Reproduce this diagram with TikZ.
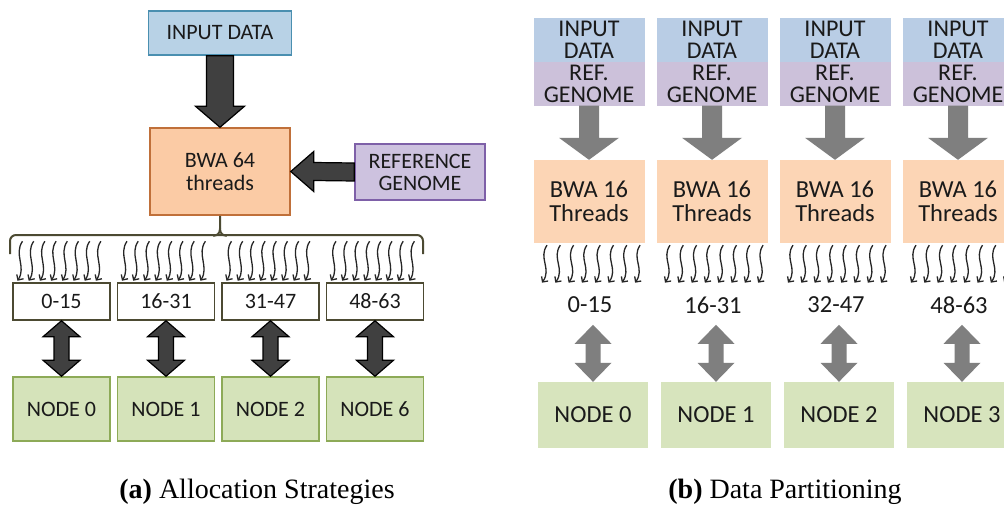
\documentclass[tikz,border=0pt]{standalone}
\usepackage{fontspec}
\setmainfont{Carlito}
\newfontfamily\capfont{Liberation Serif}
\usetikzlibrary{calc,arrows.meta}
\definecolor{inblue}{HTML}{B8D2E6}
\definecolor{inblueb}{HTML}{4A8FB0}
\definecolor{lpeach}{HTML}{FBCBA5}
\definecolor{lpeachb}{HTML}{C0703A}
\definecolor{llav}{HTML}{CDC2DF}
\definecolor{llavb}{HTML}{7E60A8}
\definecolor{lgreen}{HTML}{D5E3BA}
\definecolor{lgreenb}{HTML}{8DAA57}
\definecolor{olive}{HTML}{4C4A32}
\definecolor{rblue}{HTML}{B9CDE5}
\definecolor{rlav}{HTML}{CCC1DA}
\definecolor{rpeach}{HTML}{FCD5B5}
\definecolor{rgreen}{HTML}{D7E4BD}
\definecolor{garrow}{HTML}{7F7F7F}
\definecolor{darrow}{HTML}{404040}
\definecolor{txt}{HTML}{1A1A1A}
% vertical block arrow: #1 start, #2 tip, #3 half shaft, #4 half head, #5 head length, #6 style
\newcommand\vblk[6]{%
  \path[#6] ($(#1)+(-#3,0)$) -- ($(#1)+(#3,0)$) -- ($(#2)+(#3,-#5)$) -- ($(#2)+(#4,-#5)$) -- (#2)
    -- ($(#2)+(-#4,-#5)$) -- ($(#2)+(-#3,-#5)$) -- cycle;}
% leftward block arrow: #1 start (right), #2 tip (left)
\newcommand\hblk[6]{%
  \path[#6] ($(#1)+(0,-#3)$) -- ($(#1)+(0,#3)$) -- ($(#2)+(#5,#3)$) -- ($(#2)+(#5,#4)$) -- (#2)
    -- ($(#2)+(#5,-#4)$) -- ($(#2)+(#5,-#3)$) -- cycle;}
% vertical double block arrow: #1 top tip, #2 bottom tip
\newcommand\dblk[6]{%
  \path[#6] (#1) -- ($(#1)+(#4,#5)$) -- ($(#1)+(#3,#5)$) -- ($(#2)+(#3,-#5)$) -- ($(#2)+(#4,-#5)$) -- (#2)
    -- ($(#2)+(-#4,-#5)$) -- ($(#2)+(-#3,-#5)$) -- ($(#1)+(-#3,#5)$) -- ($(#1)+(-#4,#5)$) -- cycle;}
\tikzset{
  lbox/.style={draw, line width=1.5pt, inner sep=0pt, align=center, text=txt,
    font=\fontsize{22}{22}\selectfont},
  tbox/.style={lbox, fill=white, draw=olive, minimum width=97, minimum height=37},
  lnode/.style={lbox, fill=lgreen, draw=lgreenb, minimum width=97, minimum height=64},
  rbox/.style={inner sep=0pt, align=center, text=txt, font=\fontsize{24.5}{24}\selectfont},
  rtop/.style={rbox, minimum width=111, minimum height=44, font=\fontsize{24}{22}\selectfont},
  rbwa/.style={rbox, fill=rpeach, minimum width=111, minimum height=83, font=\fontsize{24.5}{24}\selectfont},
  rlab/.style={rbox},
  rnode/.style={rbox, fill=rgreen, minimum width=110, minimum height=66},
  darkarrow/.style={fill=darrow, draw=black, line width=1.2pt, line join=miter},
  grayarrow/.style={fill=garrow},
  brace/.style={draw=olive, line width=2pt},
  wave/.style={draw=black!85, line width=1.3pt, -{Straight Barb[length=4pt,width=8pt]}},
  captxt/.style={inner sep=0pt, anchor=base, text=black, font=\capfont\fontsize{28}{30}\selectfont}
}
\begin{document}
\begin{tikzpicture}[x=1pt,y=-1pt]
\clip (0,0) rectangle (1004,506);
\fill[white] (0,0) rectangle (1004,506);

% ---------------- left panel ----------------
\node[lbox, fill=inblue, draw=inblueb, minimum width=143, minimum height=44] (in) at (220,33) {INPUT DATA};
\node[lbox, fill=lpeach, draw=lpeachb, minimum width=140, minimum height=87, font=\fontsize{22}{23}\selectfont] (bwa) at (220,171.5) {BWA 64\\threads};
\node[lbox, fill=llav, draw=llavb, minimum width=130, minimum height=56] (rg) at (420,172) {REFERENCE\\GENOME};

\vblk{in.south}{bwa.north}{13.5}{24.5}{21}{darkarrow}
\hblk{rg.west}{bwa.east}{9}{20}{23}{darkarrow}

\foreach \i/\t in {0/0-15,1/16-31,2/31-47,3/48-63}
  \node[tbox] (tb\i) at (61.5+104.5*\i,301.5) {\t};
\foreach \i/\t in {0/0,1/1,2/2,3/6}
  \node[lnode] (nd\i) at (61.5+104.5*\i,409) {NODE \t};

% brace
\coordinate (bm) at ($(bwa.south)+(0,13)$);
\draw[brace, rounded corners=6] (10,254) -- (10,235) -- (423,235) -- (423,254);
\draw[brace] (bwa.south) -- (bm) .. controls +(0,5) and +(4,0) .. ($(bm)+(-7,7)$);
\draw[brace] (bm) .. controls +(0,5) and +(-4,0) .. ($(bm)+(7,7)$);

\foreach \i in {0,...,3}{
  \foreach \k in {0,...,7}{
    \draw[wave] ($(tb\i.north)+(-39+11.2*\k,-41)$) .. controls +(-9,13) and +(9,-14) .. ($(tb\i.north)+(-44+11.2*\k,-1.5)$);
  }
  \dblk{tb\i.south}{nd\i.north}{7.5}{18.5}{16}{darkarrow}
}

% ---------------- right panel ----------------
\foreach \i/\t in {0/0-15,1/16-31,2/32-47,3/48-63}{
  \node[rtop, fill=rblue] (ti\i) at (589+123*\i,39.5) {INPUT\\DATA};
  \node[rtop, fill=rlav] (ri\i) at (589+123*\i,83.5) {REF.\\GENOME};
  \node[rbwa] (rb\i) at (589+123*\i,201.5) {BWA 16\\Threads};
  \node[rlab] (rl\i) at (590+123*\i,305) {\t};
  \node[rnode] (rn\i) at (593+123*\i,415) {NODE \i};
  \vblk{ri\i.south}{rb\i.north}{10}{30}{22}{grayarrow}
  \coordinate (rdt\i) at ($(rn\i.north)+(0,-57)$);
  \dblk{rdt\i}{rn\i.north}{7.5}{18.5}{19}{grayarrow}
  \foreach \k in {0,...,7}{
    \draw[wave] ($(rb\i.south)+(-42+13.3*\k,2)$) .. controls +(-9,13) and +(10,-14) .. ($(rb\i.south)+(-47+13.3*\k,39.5)$);
  }
}

% captions
\node[captxt] (capa) at (257,498) {\textbf{(a)} Allocation Strategies};
\node[captxt] (capb) at (785,498) {\textbf{(b)} Data Partitioning};
\end{tikzpicture}
\end{document}
